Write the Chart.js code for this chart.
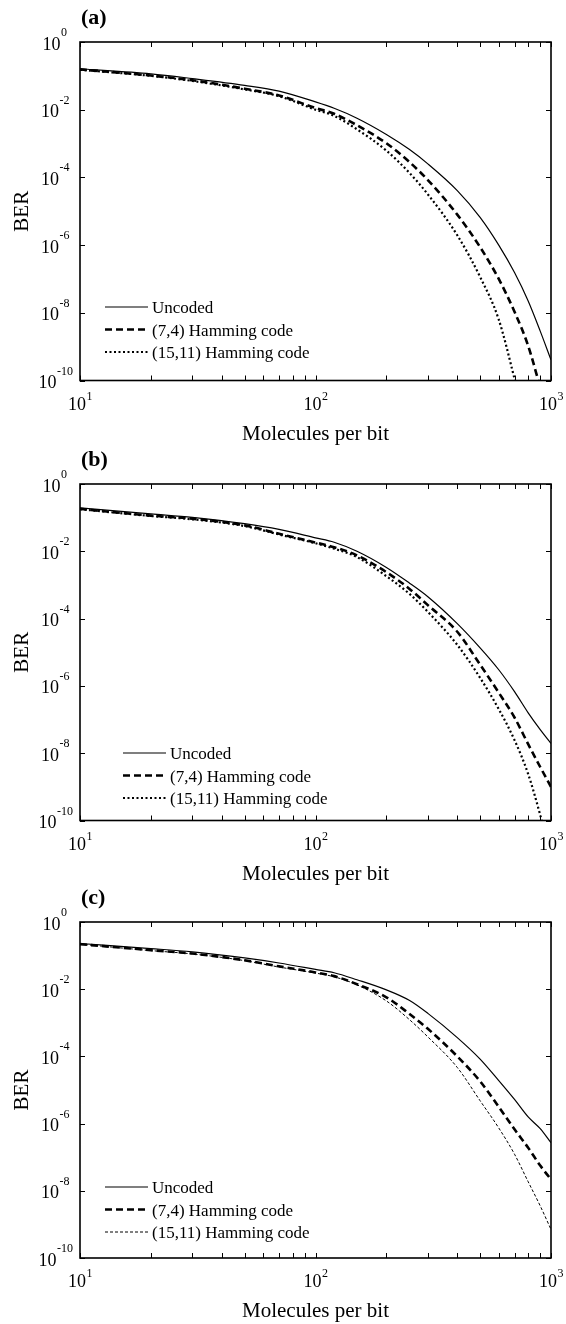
<!DOCTYPE html>
<html>
<head>
<meta charset="utf-8">
<script src="https://cdn.jsdelivr.net/npm/chart.js@4.4.1/dist/chart.umd.min.js"></script>
<style>
  html, body { margin: 0; padding: 0; background: #fff; }
  .wrap { position: relative; width: 566px; height: 1324px; overflow: hidden; }
  .panel { position: absolute; left: 0; width: 566px; }
  #pa { top: 0; height: 460px; }
  #pb { top: 440px; height: 460px; }
  #pc { top: 880px; height: 444px; }
</style>
</head>
<body>
<div class="wrap">
  <div class="panel" id="pa"><canvas id="chartA"></canvas></div>
  <div class="panel" id="pb"><canvas id="chartB"></canvas></div>
  <div class="panel" id="pc"><canvas id="chartC"></canvas></div>
</div>
<script>
// molecules per bit (x) shared by every curve
const molecules = [10, 20, 30, 50, 70, 100, 120, 150, 200, 250, 300, 400, 500, 600, 700, 800, 900, 1000];
const seriesNames = ['Uncoded', '(7,4) Hamming code', '(15,11) Hamming code'];

// panel (a)
const berA_uncoded = [0.162, 0.115, 0.0832, 0.0525, 0.0355, 0.0170, 0.0110, 5.62e-3, 1.86e-3, 6.76e-4, 2.51e-4, 4.07e-5, 6.61e-6, 1.0e-6, 1.55e-7, 2.24e-8, 2.88e-9, 4.07e-10];
const berA_ham74 = [0.155, 0.102, 0.0741, 0.0417, 0.0263, 0.0112, 7.59e-3, 3.47e-3, 1.02e-3, 2.88e-4, 8.32e-5, 7.94e-6, 8.71e-7, 1.0e-7, 1.07e-8, 1.05e-9, 6.31e-11, null];
const berA_ham1511 = [0.151, 0.1, 0.0708, 0.0398, 0.0251, 0.01, 6.61e-3, 2.63e-3, 6.17e-4, 1.38e-4, 3.16e-5, 1.95e-6, 1.15e-7, 6.31e-9, 1.12e-10, 2.51e-12, null, null];

// panel (b)
const berB_uncoded = [0.195, 0.129, 0.102, 0.0661, 0.0447, 0.0251, 0.0186, 0.01, 3.31e-3, 1.15e-3, 4.47e-4, 7.08e-5, 1.35e-5, 3.02e-6, 6.76e-7, 1.58e-7, 5.01e-8, 1.95e-8];
const berB_ham74 = [0.182, 0.115, 0.0933, 0.0589, 0.0331, 0.0182, 0.0132, 7.59e-3, 2.40e-3, 7.76e-4, 2.51e-4, 4.07e-5, 4.27e-6, 6.31e-7, 1.15e-7, 1.86e-8, 3.89e-9, 1.0e-9];
const berB_ham1511 = [0.178, 0.112, 0.0891, 0.0562, 0.0316, 0.0174, 0.0120, 6.76e-3, 1.82e-3, 5.50e-4, 1.58e-4, 1.66e-5, 1.74e-6, 2.04e-7, 2.45e-8, 2.40e-9, 1.45e-10, 7.94e-12];

// panel (c)
const berC_uncoded = [0.229, 0.162, 0.129, 0.0851, 0.0603, 0.0389, 0.0309, 0.0191, 9.55e-3, 4.68e-3, 1.91e-3, 3.63e-4, 8.32e-5, 1.91e-5, 5.25e-6, 1.58e-6, 7.08e-7, 2.69e-7];
const berC_ham74 = [0.219, 0.145, 0.115, 0.0724, 0.0479, 0.0316, 0.0245, 0.0141, 5.75e-3, 1.86e-3, 6.61e-4, 1.0e-4, 1.82e-5, 3.16e-6, 6.76e-7, 1.91e-7, 5.62e-8, 2.19e-8];
const berC_ham1511 = [0.219, 0.141, 0.112, 0.0708, 0.0457, 0.0302, 0.0234, 0.0135, 4.47e-3, 1.26e-3, 3.80e-4, 4.68e-5, 4.79e-6, 7.41e-7, 1.23e-7, 1.86e-8, 3.55e-9, 7.08e-10];

// axis ticks
const xMajorTicks = [10, 100, 1000];
const xMinorTicks = [20, 30, 40, 50, 60, 70, 80, 90, 200, 300, 400, 500, 600, 700, 800, 900];
const yMajorTicks = [1, 1e-2, 1e-4, 1e-6, 1e-8, 1e-10];

const SERIF = '"Liberation Serif", "Times New Roman", serif';

function expText(v) {
  return String(Math.round(Math.log10(v)));
}

const matlabAxes = {
  id: 'matlabAxes',
  afterDatasetsDraw(chart, args, opts) {
    const { ctx, chartArea: a } = chart;
    const xs = chart.scales.x, ys = chart.scales.y;
    ctx.save();
    ctx.strokeStyle = '#000';
    ctx.fillStyle = '#000';

    // ticks, pointing inwards on all four sides
    ctx.lineWidth = 1;
    ctx.beginPath();
    xMajorTicks.concat(xMinorTicks).forEach(v => {
      const px = Math.round(xs.getPixelForValue(v)) + 0.5;
      ctx.moveTo(px, a.bottom); ctx.lineTo(px, a.bottom - 5);
      ctx.moveTo(px, a.top); ctx.lineTo(px, a.top + 5);
    });
    yMajorTicks.forEach(v => {
      const py = Math.round(ys.getPixelForValue(v)) + 0.5;
      ctx.moveTo(a.left, py); ctx.lineTo(a.left + 5, py);
      ctx.moveTo(a.right, py); ctx.lineTo(a.right - 5, py);
    });
    ctx.stroke();

    ctx.lineWidth = 1.6;
    ctx.strokeRect(a.left, a.top, a.right - a.left, a.bottom - a.top);

    // tick labels 10^n
    const baseFont = '18px ' + SERIF, expFont = '12px ' + SERIF;
    ctx.textBaseline = 'alphabetic';
    ctx.textAlign = 'left';
    xMajorTicks.forEach(v => {
      const px = xs.getPixelForValue(v);
      const e = expText(v);
      ctx.font = baseFont; const wb = ctx.measureText('10').width;
      ctx.font = expFont; const we = ctx.measureText(e).width;
      const x0 = px - (wb + we) / 2;
      ctx.font = baseFont; ctx.fillText('10', x0, a.bottom + 29);
      ctx.font = expFont; ctx.fillText(e, x0 + wb + 0.5, a.bottom + 19);
    });
    yMajorTicks.forEach(v => {
      const py = ys.getPixelForValue(v);
      const e = expText(v);
      ctx.font = baseFont; const wb = ctx.measureText('10').width;
      ctx.font = expFont; const we = ctx.measureText(e).width;
      const xr = a.left - 17 - 0.4 * we;
      ctx.font = baseFont; ctx.fillText('10', xr - wb, py + 7.5);
      ctx.font = expFont; ctx.fillText(e, xr + 0.5, py - 6);
    });

    // axis titles
    ctx.font = '21px ' + SERIF;
    ctx.textAlign = 'center';
    ctx.fillText('Molecules per bit', (a.left + a.right) / 2, a.bottom + 59);
    ctx.save();
    ctx.translate(28, (a.top + a.bottom) / 2);
    ctx.rotate(-Math.PI / 2);
    ctx.fillText('BER', 0, 0);
    ctx.restore();

    // panel letter
    ctx.font = 'bold 22px ' + SERIF;
    ctx.textAlign = 'left';
    ctx.fillText(opts.letter, a.left + 1, a.top - 18);

    // legend
    ctx.font = '17px ' + SERIF;
    chart.data.datasets.forEach((ds, i) => {
      const ly = opts.legendY + i * 22.5;
      ctx.save();
      ctx.lineWidth = ds.borderWidth;
      ctx.setLineDash(ds.borderDash || []);
      ctx.beginPath();
      ctx.moveTo(opts.legendX, ly);
      ctx.lineTo(opts.legendX + 43, ly);
      ctx.stroke();
      ctx.restore();
      ctx.fillText(ds.label, opts.legendX + 47, ly + 6);
    });
    ctx.restore();
  }
};

function makePanel(id, letter, values, styles, frame, legendX, legendY) {
  const datasets = values.map((vals, i) => ({
    label: seriesNames[i],
    data: molecules.map((m, j) => ({ x: m, y: vals[j] })),
    borderColor: '#000',
    borderWidth: styles[i].width,
    borderDash: styles[i].dash,
    borderCapStyle: 'butt',
    pointRadius: 0,
    fill: false,
    cubicInterpolationMode: 'monotone',
    clip: 0
  }));
  new Chart(document.getElementById(id).getContext('2d'), {
    type: 'line',
    data: { datasets },
    options: {
      responsive: true,
      maintainAspectRatio: false,
      animation: false,
      devicePixelRatio: 1,
      layout: { padding: { left: 80, right: 15, top: frame.top, bottom: frame.bottom } },
      scales: {
        x: { type: 'logarithmic', min: 10, max: 1000, display: false },
        y: { type: 'logarithmic', min: 1e-10, max: 1, display: false }
      },
      plugins: {
        legend: { display: false },
        tooltip: { enabled: false },
        matlabAxes: { letter, legendX, legendY }
      }
    },
    plugins: [matlabAxes]
  });
}

const lineStyles = [
  { width: 1.2, dash: [] },
  { width: 2.6, dash: [7, 4] },
  { width: 2.2, dash: [2, 2.5] }
];
const lineStylesC = [
  { width: 1.2, dash: [] },
  { width: 2.6, dash: [7, 4] },
  { width: 1, dash: [3, 2] }
];

makePanel('chartA', '(a)', [berA_uncoded, berA_ham74, berA_ham1511], lineStyles, { top: 42, bottom: 79.5 }, 105, 307);
makePanel('chartB', '(b)', [berB_uncoded, berB_ham74, berB_ham1511], lineStyles, { top: 44, bottom: 79.5 }, 123, 313);
makePanel('chartC', '(c)', [berC_uncoded, berC_ham74, berC_ham1511], lineStylesC, { top: 42, bottom: 66 }, 105, 307);
</script>
</body>
</html>
